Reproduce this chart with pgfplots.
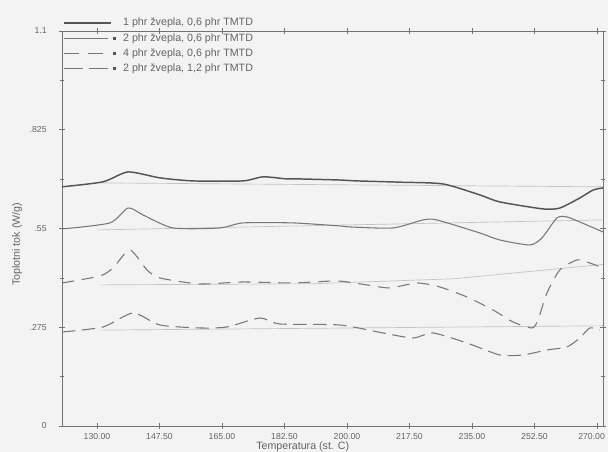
\documentclass[border=0pt]{standalone}
\usepackage{pgfplots}
\pgfplotsset{compat=1.18}
\usepackage{fontspec}
\setmainfont{Liberation Sans}
\definecolor{bg}{RGB}{243,243,243}
\definecolor{txt}{RGB}{100,100,100}
\definecolor{axc}{RGB}{115,115,115}
\definecolor{c1}{RGB}{85,85,85}
\definecolor{c2}{RGB}{120,120,120}
\definecolor{bl}{RGB}{195,195,195}
\pgfplotsset{
  legA/.style={legend image code/.code={\draw[##1] (0pt,0pt) -- (35pt,0pt); \path[draw=none,fill=none] (0pt,-1pt) rectangle (43pt,1pt);}},
  legB/.style={legend image code/.code={\draw[##1] (0pt,0pt) -- (33pt,0pt); \fill[c1,draw=none] (37pt,-1.1pt) rectangle (39.2pt,1.1pt); \path[draw=none,fill=none] (0pt,-1pt) rectangle (43pt,1pt);}},
  legC/.style={legend image code/.code={\draw[##1, dash pattern=on 11pt off 7pt] (0pt,0pt) -- (29pt,0pt); \fill[c1,draw=none] (37pt,-1.1pt) rectangle (39.2pt,1.1pt); \path[draw=none,fill=none] (0pt,-1pt) rectangle (43pt,1pt);}},
  legD/.style={legend image code/.code={\draw[##1, dash pattern=on 14.25pt off 4.5pt] (0pt,0pt) -- (33pt,0pt); \fill[c1,draw=none] (37pt,-1.1pt) rectangle (39.2pt,1.1pt); \path[draw=none,fill=none] (0pt,-1pt) rectangle (43pt,1pt);}},
}
\begin{document}
\begin{tikzpicture}
\useasboundingbox (-46.5pt,-19.5pt) rectangle (409.5pt,319.5pt);
\fill[bg] (-46.5pt,-19.5pt) rectangle (409.5pt,319.5pt);
\begin{axis}[
  at={(0pt,0pt)}, anchor=south west,
  scale only axis, width=405.75pt, height=296.25pt,
  xmin=120.2, xmax=271.7, ymin=0, ymax=1.1,
  xtick={130,147.5,165,182.5,200,217.5,235,252.5},
  xticklabels={130.00,147.50,165.00,182.50,200.00,217.50,235.00,252.50},
  extra x ticks={270}, extra x tick labels={270.00},
  extra x tick style={xticklabel style={xshift=-4pt}},
  ytick={0,0.275,0.55,0.825,1.1},
  yticklabels={0,.275,.55,.825,1.1},
  minor y tick num=1,
  tick align=center,
  axis line style={axc, line width=0.6pt},
  tick style={axc, line width=0.5pt},
  major tick length=4pt, minor tick length=3.5pt,
  ticklabel style={font=\fontsize{6.5}{7}\selectfont, text=txt},
  yticklabel style={xshift=-6pt},
  xlabel={Temperatura (st. C)}, ylabel={Toplotni tok (W/g)},
  label style={font=\fontsize{8}{9}\selectfont, text=txt},
  xlabel style={at={(axis description cs:0.445,-0.053)}, anchor=center},
  ylabel style={at={(axis description cs:-0.083,0.46)}, anchor=center},
  legend style={at={(axis description cs:0.002,1.038)}, anchor=north west,
    draw=none, fill=none, font=\fontsize{8}{9}\selectfont, text=txt,
    inner sep=0pt, row sep=1.6pt, nodes={inner sep=1.3pt}},
  legend cell align=left,
]
% baselines
\addplot[bl, line width=0.5pt, forget plot] coordinates {(130.8,0.677) (271.7,0.666)};
\addplot[bl, line width=0.5pt, forget plot] coordinates {(130,0.546) (271.7,0.574)};
\addplot[bl, line width=0.5pt, forget plot] coordinates {(130.8,0.393) (190,0.396) (230,0.41) (271.7,0.45)};
\addplot[bl, line width=0.5pt, forget plot] coordinates {(130.8,0.267) (271.7,0.279)};
% curve 1
\addplot[c1, line width=1.1pt, smooth, tension=0.4, legA]
coordinates {
(120.2,0.666) (131.7,0.680) (138.7,0.7075) (147.6,0.691) (156.9,0.6825)
(170.9,0.6825) (176.5,0.694) (183.2,0.688) (186.8,0.688) (198.0,0.685)
(202.8,0.6825) (214.8,0.679) (226.9,0.674) (237.2,0.6435) (242.8,0.624)
(254.9,0.6045) (259.6,0.607) (265.2,0.635) (268.9,0.657) (271.7,0.663)
};
\addlegendentry{1 phr žvepla, 0,6 phr TMTD}
% curve 2
\addplot[c2, line width=0.8pt, smooth, tension=0.4, legB]
coordinates {
(120.2,0.5487) (133.6,0.5655) (138.7,0.6072) (142.9,0.5877) (151.3,0.5515)
(164.4,0.5515) (170.9,0.5655) (184.9,0.5655) (198.0,0.5571) (200.8,0.5543)
(212.9,0.5515) (221.3,0.5738) (225.2,0.5738) (237.2,0.5376) (242.8,0.518)
(251.2,0.5042) (254.6,0.5237) (258.8,0.5794) (261.6,0.5822) (265.2,0.5682)
(271.7,0.5404)
};
\addlegendentry{2 phr žvepla, 0,6 phr TMTD}
% curve 3
\addplot[c2, line width=0.8pt, dash pattern=on 9pt off 6pt, smooth, tension=0.4, legC]
coordinates {
(120.2,0.3983) (130.8,0.4178) (134.5,0.4401) (139.2,0.4903) (144.0,0.4345)
(147.6,0.4123) (158.8,0.3955) (170.9,0.4011) (184.9,0.3983) (197.2,0.4039)
(205.6,0.3928) (212.0,0.3844) (219.6,0.3983) (226.0,0.3872) (233.6,0.3593)
(240.9,0.3231) (246.5,0.2897) (251.8,0.273) (253.5,0.2953) (256.0,0.3705)
(259.6,0.4345) (264.4,0.4624) (267.2,0.4568) (271.7,0.4401)
};
\addlegendentry{4 phr žvepla, 0,6 phr TMTD}
% curve 4
\addplot[c2, line width=0.8pt, dash pattern=on 10pt off 5pt, smooth, tension=0.4, legD]
coordinates {
(120.2,0.2618) (131.7,0.2758) (140.1,0.3148) (147.6,0.2813) (158.8,0.273)
(166.4,0.2758) (175.6,0.3008) (181.2,0.2841) (198.0,0.2813) (210.1,0.2591)
(218.5,0.2451) (224.1,0.2591) (233.6,0.2312) (242.8,0.1978) (249.3,0.1978)
(256.0,0.2117) (261.6,0.2201) (265.2,0.2451) (268.0,0.273) (270.8,0.2674)
};
\addlegendentry{2 phr žvepla, 1,2 phr TMTD}
\end{axis}
\end{tikzpicture}
\end{document}
